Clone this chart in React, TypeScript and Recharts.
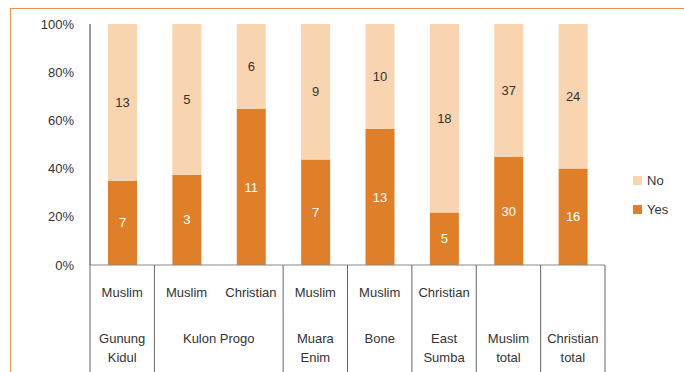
import React from "react";
import { BarChart, Bar, XAxis, YAxis, LabelList } from "recharts";

// one entry per bar
const religions = ["Muslim", "Muslim", "Christian", "Muslim", "Muslim", "Christian", "", ""];
const yesCounts = [7, 3, 11, 7, 13, 5, 30, 16];
const noCounts = [13, 5, 6, 9, 10, 18, 37, 24];

// region groups: label lines and how many bars each spans
const regionLabels = [["Gunung", "Kidul"], ["Kulon Progo"], ["Muara", "Enim"], ["Bone"], ["East", "Sumba"], ["Muslim", "total"], ["Christian", "total"]];
const regionSpans = [1, 2, 1, 1, 1, 1, 1];

const yTicks = [0, 0.2, 0.4, 0.6, 0.8, 1];

const YES = "#E07F29";
const NO = "#F8D4B1";
const FONT = "'Liberation Sans', Arial, sans-serif";

const W = 684;
const H = 372;
const M = { top: 24, right: 79, left: 0, bottom: 0 };
const Y_W = 90;
const X_H = H - 265;
const BAND = (W - M.left - M.right - Y_W) / religions.length;

const data = religions.map((r, i) => ({ religion: r, yes: yesCounts[i], no: noCounts[i] }));

// which bar starts each region group
const groupStarts: Record<number, number> = {};
{
  let idx = 0;
  regionSpans.forEach((s, g) => {
    groupStarts[idx] = g;
    idx += s;
  });
}

function TableTick(props: any) {
  const { x, y, index, payload } = props;
  const left = x - BAND / 2;
  const g = groupStarts[index];
  const last = index === religions.length - 1;
  const lineColor = "#666";
  return (
    <g>
      {g !== undefined && (
        <line x1={left} x2={left} y1={y} y2={y + X_H} stroke={lineColor} strokeWidth={1} />
      )}
      {last && (
        <line x1={left + BAND} x2={left + BAND} y1={y} y2={y + X_H} stroke={lineColor} strokeWidth={1} />
      )}
      {payload.value && (
        <text x={x} y={y + 32} textAnchor="middle" fontSize={13} fill="#333" fontFamily={FONT}>
          {payload.value}
        </text>
      )}
      {g !== undefined &&
        regionLabels[g].map((line, k) => (
          <text
            key={k}
            x={left + (regionSpans[g] * BAND) / 2}
            y={y + 78 + k * 19}
            textAnchor="middle"
            fontSize={13}
            fill="#333"
            fontFamily={FONT}
          >
            {line}
          </text>
        ))}
    </g>
  );
}

function LegendBox() {
  const items = [
    { name: "No", color: NO },
    { name: "Yes", color: YES },
  ];
  return (
    <div style={{ position: "absolute", left: 633, top: 166, fontFamily: FONT, fontSize: 13, color: "#333" }}>
      {items.map((it) => (
        <div key={it.name} style={{ display: "flex", alignItems: "center", height: 29 }}>
          <span style={{ width: 9, height: 9, background: it.color, marginRight: 5, display: "inline-block" }} />
          {it.name}
        </div>
      ))}
    </div>
  );
}

export default function App() {
  return (
    <div style={{ position: "absolute", left: 0, top: 0, width: W, height: H, background: "#fff", overflow: "hidden" }}>
      <div
        style={{
          position: "absolute",
          left: 10,
          top: 8,
          right: 0,
          bottom: 0,
          borderTop: "1.5px solid #E8914F",
          borderLeft: "1.5px solid #E8914F",
        }}
      />
      <BarChart width={W} height={H} data={data} margin={M} stackOffset="expand" barSize={29}>
        <XAxis
          dataKey="religion"
          interval={0}
          height={X_H}
          tickLine={false}
          tickSize={0}
          tickMargin={0}
          axisLine={{ stroke: "#888" }}
          tick={<TableTick />}
        />
        <YAxis
          width={Y_W}
          ticks={yTicks}
          domain={[0, 1]}
          tickFormatter={(v: number) => `${Math.round(v * 100)}%`}
          tickLine={false}
          tickSize={0}
          tickMargin={16}
          axisLine={{ stroke: "#333" }}
          tick={{ fontSize: 13, fill: "#333", fontFamily: FONT }}
        />
        <Bar dataKey="yes" name="Yes" stackId="a" fill={YES} isAnimationActive={false}>
          <LabelList dataKey="yes" position="center" fill="#fff" fontSize={13} fontFamily={FONT} />
        </Bar>
        <Bar dataKey="no" name="No" stackId="a" fill={NO} isAnimationActive={false}>
          <LabelList dataKey="no" position="center" fill="#333" fontSize={13} fontFamily={FONT} />
        </Bar>
      </BarChart>
      <LegendBox />
    </div>
  );
}
